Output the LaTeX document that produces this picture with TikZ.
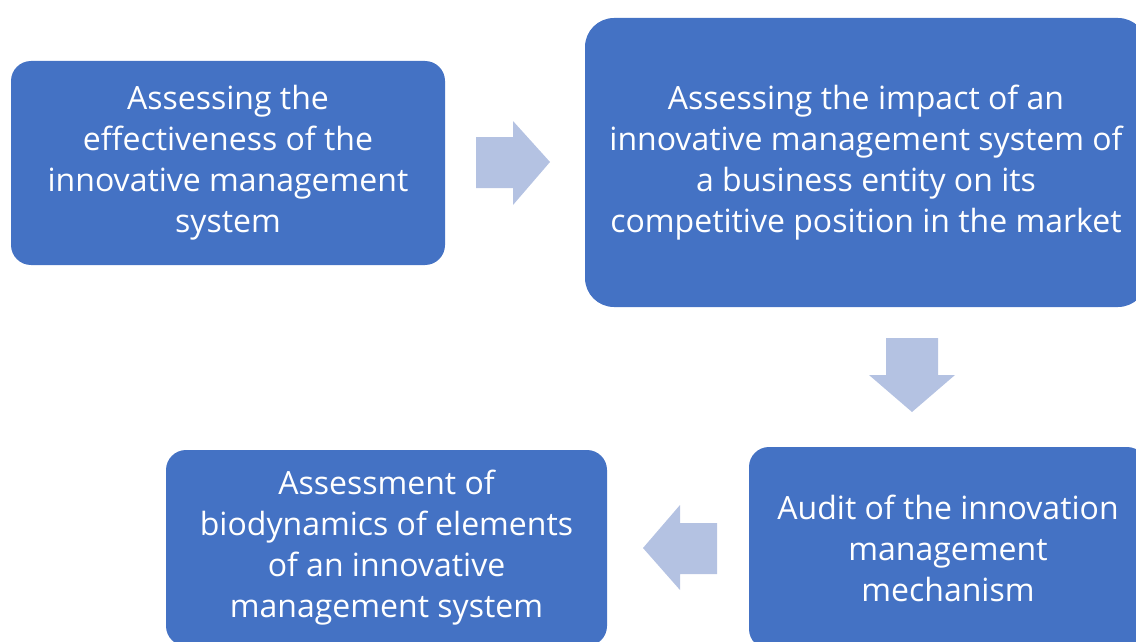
\documentclass[tikz,border=0pt]{standalone}
\usepackage{fontspec}
\setmainfont{Open Sans}
\definecolor{boxblue}{HTML}{4472C4}
\definecolor{arrowblue}{HTML}{B4C2E2}
\begin{document}
\begin{tikzpicture}[x=1pt,y=-1pt,
  stage/.style={fill=boxblue,draw=none,text=white,align=center,inner sep=0pt,
    font=\fontsize{32}{41}\selectfont},
  blockarrow/.style={fill=arrowblue,draw=none}]
\useasboundingbox (0,0) rectangle (1136,642);
\begin{scope}
\clip (0,0) rectangle (1136,642);
\node[stage,rounded corners=20pt,minimum width=434pt,minimum height=204pt] (s1) at (228,163)
  {Assessing the\\effectiveness of the\\innovative management\\system};
\node[stage,rounded corners=29pt,minimum width=562pt,minimum height=289pt] (s2) at (866,162.5)
  {Assessing the impact of an\\innovative management system of\\a business entity on its\\competitive position in the market};
\node[stage,rounded corners=20pt,minimum width=398pt,minimum height=202pt] (s3) at (948,548)
  {Audit of the innovation\\management\\mechanism};
\node[stage,rounded corners=20pt,minimum width=441pt,minimum height=196pt] (s4) at (386.5,548)
  {Assessment of\\biodynamics of elements\\of an innovative\\management system};
\end{scope}
% block arrows
\fill[blockarrow] (476,137) -- (513,137) -- (513,121) -- (550,162) -- (513,205) -- (513,188) -- (476,188) -- cycle;
\fill[blockarrow] (886,338) -- (938,338) -- (938,375) -- (955,375) -- (912,412) -- (869,375) -- (886,375) -- cycle;
\fill[blockarrow] (717,523) -- (680,523) -- (680,505) -- (643,548) -- (680,590) -- (680,574) -- (717,574) -- cycle;
\end{tikzpicture}
\end{document}
